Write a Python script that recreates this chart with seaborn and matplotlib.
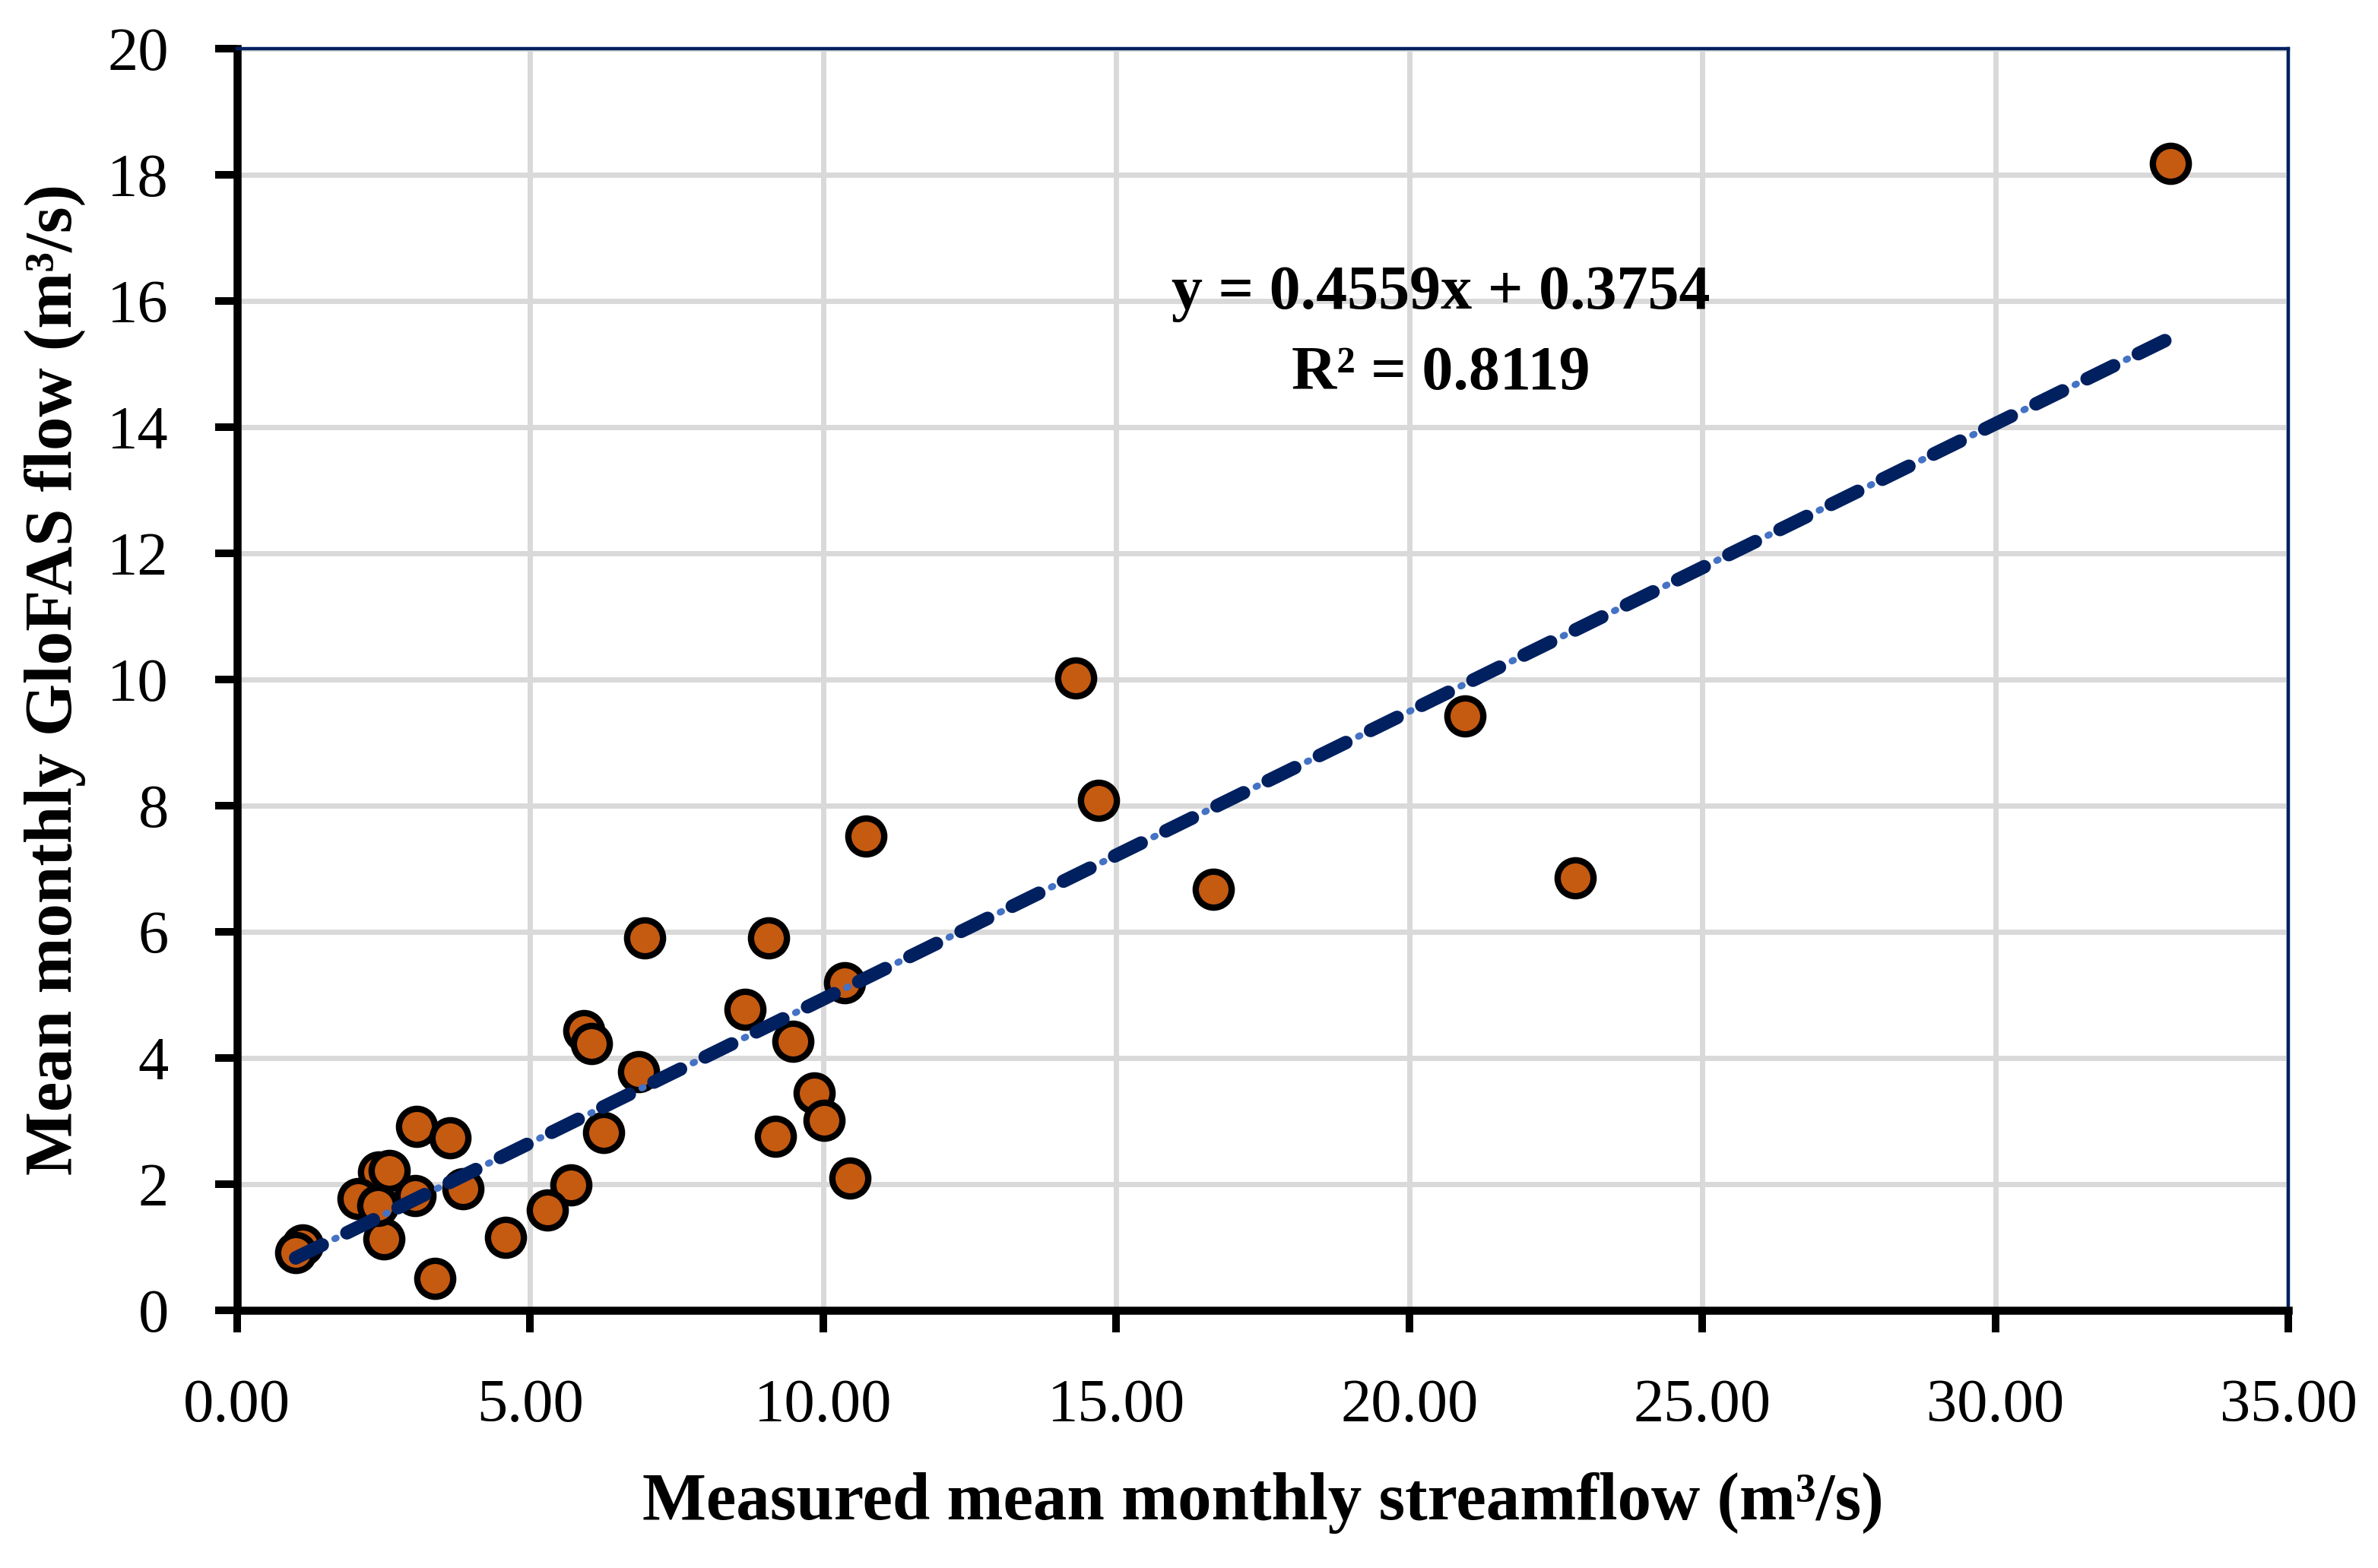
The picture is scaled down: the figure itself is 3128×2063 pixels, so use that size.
import matplotlib
matplotlib.use('Agg')
import matplotlib.pyplot as plt
import seaborn as sns
import numpy as np
import pandas as pd

# measured vs GloFAS mean monthly flow (m3/s)
measured = [32.99, 14.31, 20.95, 14.70, 10.73, 16.66, 22.83,
            6.95, 9.07, 10.36, 8.67, 5.92, 6.05, 9.48, 6.85, 9.85,
            10.01, 9.18, 6.25, 3.06, 3.64, 10.46, 5.69, 3.85, 3.04,
            5.29, 4.58, 3.37, 2.50, 2.41, 2.59, 2.06, 2.40, 1.12, 1.00]
glofas = [18.18, 10.02, 9.42, 8.08, 7.52, 6.67, 6.86,
          5.90, 5.90, 5.19, 4.77, 4.43, 4.23, 4.27, 3.78, 3.45,
          3.01, 2.76, 2.82, 2.92, 2.73, 2.10, 1.99, 1.93, 1.82,
          1.59, 1.16, 0.51, 1.13, 2.19, 2.22, 1.77, 1.66, 1.04, 0.92]

slope = 0.4559
intercept = 0.3754
r2 = 0.8119

x_ticks = [0, 5, 10, 15, 20, 25, 30, 35]
y_ticks = [0, 2, 4, 6, 8, 10, 12, 14, 16, 18, 20]

df = pd.DataFrame({'measured': measured, 'glofas': glofas})

sns.set_theme(style='white')
plt.rcParams['font.family'] = ['Liberation Serif', 'DejaVu Serif']
plt.rcParams['lines.scale_dashes'] = False
plt.rcParams['text.color'] = 'black'
plt.rcParams['axes.labelcolor'] = 'black'

fig, ax = plt.subplots(figsize=(15.64, 10.315), dpi=200)
fig.subplots_adjust(left=0.0997, right=0.9623, bottom=0.1643, top=0.969)

ax.grid(True, color='#d9d9d9', linewidth=2.5)
ax.set_axisbelow(True)

sns.scatterplot(data=df, x='measured', y='glofas', ax=ax,
                color='#c55a11', edgecolor='black', linewidth=3.0,
                s=290, zorder=3)

# linear trendline from the reported equation
xl = np.array([df['measured'].min(), df['measured'].max()])
yl = slope * xl + intercept
ax.plot(xl, yl, color='#4472c4', linewidth=3.2,
        linestyle=(6.4, (0.8, 26.2)), dash_capstyle='round', zorder=4)
ax.plot(xl, yl, color='#002060', linewidth=6.4,
        linestyle=(0, (14.0, 13.0)), dash_capstyle='round', zorder=5)

ax.text(0.587, 0.806, f'y = {slope:.4f}x + {intercept:.4f}',
        transform=ax.transAxes, ha='center', va='center',
        fontsize=29.5, fontweight='bold', color='black')
ax.text(0.587, 0.742, f'R² = {r2:.4f}',
        transform=ax.transAxes, ha='center', va='center',
        fontsize=29.5, fontweight='bold', color='black')

ax.set_xlim(0, 35)
ax.set_ylim(0, 20)
ax.set_xticks(x_ticks)
ax.set_yticks(y_ticks)
ax.set_xticklabels([f'{v:.2f}' for v in x_ticks])
ax.set_yticklabels([str(v) for v in y_ticks])
ax.tick_params(axis='both', which='major', direction='out', length=10.4,
               width=3.6, color='black', labelcolor='black', labelsize=29,
               pad=22, bottom=True, left=True)

for side in ['left', 'bottom']:
    ax.spines[side].set_color('black')
    ax.spines[side].set_linewidth(3.8)
for side in ['top', 'right']:
    ax.spines[side].set_color('#002060')
    ax.spines[side].set_linewidth(1.6)

ax.set_xlabel('Measured mean monthly streamflow (m³/s)', fontsize=32,
              fontweight='bold', labelpad=18, color='black')
ax.set_ylabel('Mean monthly GloFAS flow (m³/s)', fontsize=32,
              fontweight='bold', labelpad=10, color='black')

plt.savefig('out.png', dpi=200)
